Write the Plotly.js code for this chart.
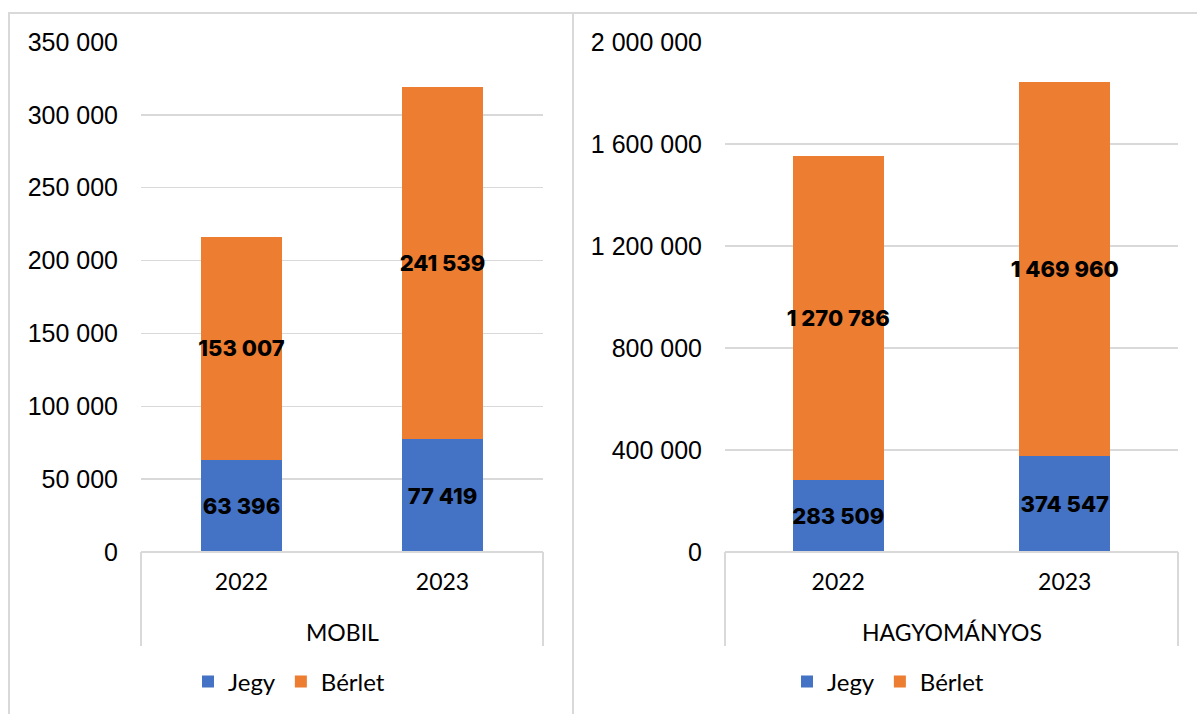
<!DOCTYPE html>
<html>
<head>
<meta charset="utf-8">
<script src="https://cdn.plot.ly/plotly-3.0.1.min.js"></script>
<style>html,body{margin:0;padding:0;background:#fff}#chart{width:1197px;height:714px}</style>
</head>
<body>
<div id="chart"></div>
<script>
// ---- data ----
const years = ["2022", "2023"];
const groupLabels = ["MOBIL", "HAGYOMÁNYOS"];
const seriesNames = ["Jegy", "Bérlet"];
const mobilJegy = [63396, 77419];
const mobilBerlet = [153007, 241539];
const hagyJegy = [283509, 374547];
const hagyBerlet = [1270786, 1469960];
const mobilTicks = [0, 50000, 100000, 150000, 200000, 250000, 300000, 350000];
const hagyTicks = [0, 400000, 800000, 1200000, 1600000, 2000000];

// ---- layout helpers ----
const W = 1197, H = 714;
const px = v => v / W;
const py = v => 1 - v / H;
const blue = "#4472C4", orange = "#ED7D31";
const grid = "#d9d9d9";
const catFont = {family: "Lato, 'Noto Sans', sans-serif", size: 23, color: "#000"};
const tickFont = {family: "'Liberation Sans', Arial, sans-serif", size: 25, color: "#000"};
const labelFont = {family: "Inter, Lato, sans-serif", size: 22, color: "#000", weight: 800};

function fmt(v) {
  return String(v).replace(/\B(?=(\d{3})+(?!\d))/g, " ");
}

function barTrace(xa, ya, vals, name, color, legend) {
  return {
    type: "bar", x: years, y: vals, name: name, xaxis: xa, yaxis: ya,
    marker: {color: color}, legend: legend,
    text: vals.map(fmt), textposition: "inside", insidetextanchor: "middle",
    textangle: 0, constraintext: "none", textfont: labelFont,
    hoverinfo: "skip"
  };
}

const data = [
  barTrace("x", "y", mobilJegy, seriesNames[0], blue, "legend"),
  barTrace("x", "y", mobilBerlet, seriesNames[1], orange, "legend"),
  barTrace("x2", "y2", hagyJegy, seriesNames[0], blue, "legend2"),
  barTrace("x2", "y2", hagyBerlet, seriesNames[1], orange, "legend2")
];

const L = {x0: 141, x1: 543}, R = {x0: 725, x1: 1178};
const yTop = 42, yBot = 552, boxBot = 646;

function yAxis(ticks) {
  return {
    domain: [py(yBot), py(yTop)], range: [0, ticks[ticks.length - 1]],
    tickvals: ticks, ticktext: ticks.map(fmt), showgrid: true, gridcolor: grid, gridwidth: 1.5,
    zeroline: false, showline: false, ticks: "", tickfont: tickFont, ticklabelstandoff: 22,
    fixedrange: true
  };
}
function xAxis(d, anchor) {
  return {
    domain: d, anchor: anchor, type: "category", range: [-0.5, 1.5],
    showline: false, showgrid: false, zeroline: false, ticks: "",
    tickfont: catFont, ticklabelstandoff: 14, fixedrange: true
  };
}

const line = c => ({color: c, width: 2});
const shapes = [
  // outer panel borders
  {type: "line", xref: "paper", yref: "paper", x0: px(8), x1: px(1197), y0: py(13), y1: py(13), line: line(grid)},
  {type: "line", xref: "paper", yref: "paper", x0: px(9), x1: px(9), y0: py(13), y1: py(714), line: line(grid)},
  {type: "line", xref: "paper", yref: "paper", x0: px(573), x1: px(573), y0: py(13), y1: py(714), line: line(grid)},
  // category boxes
  {type: "line", xref: "paper", yref: "paper", x0: px(L.x0), x1: px(L.x1), y0: py(yBot), y1: py(yBot), line: line(grid)},
  {type: "line", xref: "paper", yref: "paper", x0: px(L.x0), x1: px(L.x0), y0: py(yBot), y1: py(boxBot), line: line(grid)},
  {type: "line", xref: "paper", yref: "paper", x0: px(L.x1), x1: px(L.x1), y0: py(yBot), y1: py(boxBot), line: line(grid)},
  {type: "line", xref: "paper", yref: "paper", x0: px(R.x0), x1: px(R.x1), y0: py(yBot), y1: py(yBot), line: line(grid)},
  {type: "line", xref: "paper", yref: "paper", x0: px(R.x0), x1: px(R.x0), y0: py(yBot), y1: py(boxBot), line: line(grid)},
  {type: "line", xref: "paper", yref: "paper", x0: px(R.x1), x1: px(R.x1), y0: py(yBot), y1: py(boxBot), line: line(grid)}
];

const annotations = [
  {xref: "paper", yref: "paper", x: px((L.x0 + L.x1) / 2), y: py(632), text: groupLabels[0], showarrow: false,
   font: catFont, xanchor: "center", yanchor: "middle"},
  {xref: "paper", yref: "paper", x: px((R.x0 + R.x1) / 2), y: py(632), text: groupLabels[1], showarrow: false,
   font: catFont, xanchor: "center", yanchor: "middle"}
];

const legendBase = {
  orientation: "h", xref: "paper", yref: "paper", xanchor: "center", yanchor: "middle",
  font: {family: "Lato, 'Noto Sans', sans-serif", size: 24, color: "#000"},
  bgcolor: "rgba(0,0,0,0)", itemwidth: 30, traceorder: "normal", tracegroupgap: 0
};

const layout = {
  width: W, height: H, margin: {l: 0, r: 0, t: 0, b: 0},
  paper_bgcolor: "#fff", plot_bgcolor: "#fff",
  barmode: "stack", bargap: 0.6, showlegend: true,
  xaxis: xAxis([px(L.x0), px(L.x1)], "y"),
  yaxis: Object.assign(yAxis(mobilTicks), {anchor: "x"}),
  xaxis2: xAxis([px(R.x0), px(R.x1)], "y2"),
  yaxis2: Object.assign(yAxis(hagyTicks), {anchor: "x2"}),
  legend: Object.assign({}, legendBase, {x: px(289), y: py(682)}),
  legend2: Object.assign({}, legendBase, {x: px(888), y: py(682)}),
  shapes: shapes, annotations: annotations
};

Plotly.newPlot("chart", data, layout, {displayModeBar: false, staticPlot: true});
</script>
</body>
</html>
